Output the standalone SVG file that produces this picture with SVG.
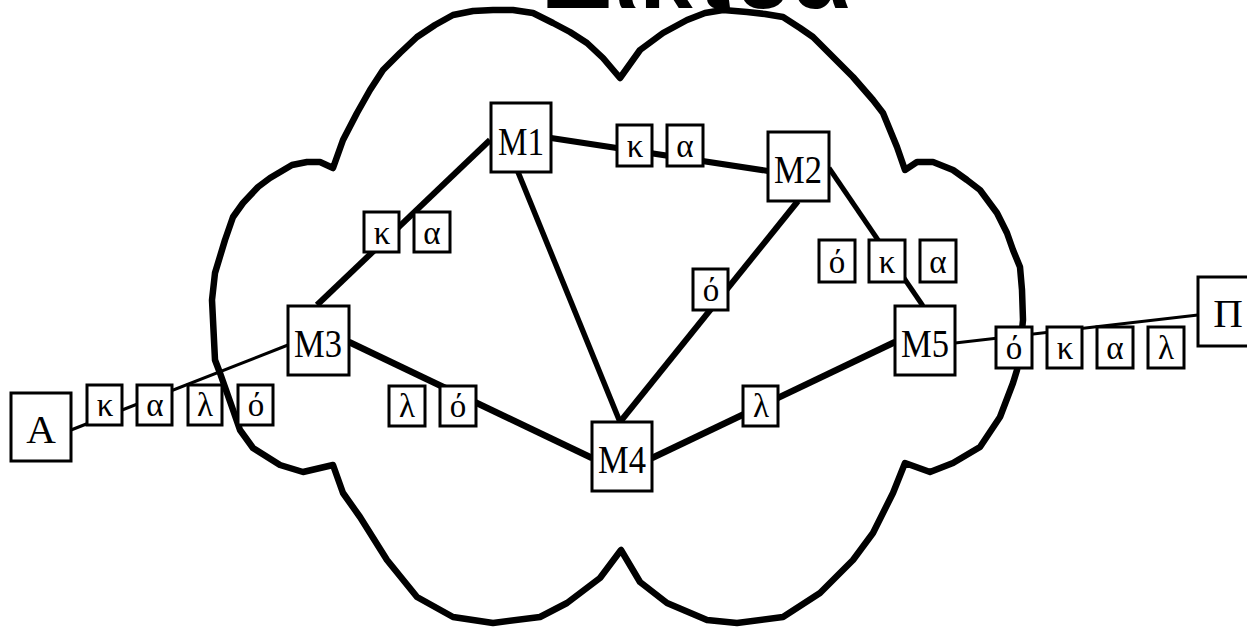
<svg xmlns="http://www.w3.org/2000/svg" width="1247" height="630" viewBox="0 0 1247 630">
<style>
.cloud{fill:none;stroke:#000;stroke-width:6.5;stroke-linejoin:round}
.box{fill:#fff;stroke:#000;stroke-width:3}
.lk{stroke:#000;fill:none;stroke-linecap:butt}
.nt{font-family:"Liberation Serif","Times New Roman",serif;font-size:41px;text-anchor:middle;fill:#000}
.pt{font-family:"Liberation Serif","Times New Roman",serif;font-size:33px;text-anchor:middle;fill:#000}
.title{font-family:"Liberation Sans",Arial,sans-serif;font-weight:bold;font-size:96px;text-anchor:middle;fill:#000}
</style>
<rect width="1247" height="630" fill="#fff"/>
<text class="title" x="697" y="8">Δίκτυα</text>
<path id="cloud" class="cloud" d="M333,168 L343,140 L357,113 L370,90 L383,70 L400,53 L417,37 L435,25 L453,15 L473,11 L493,10 L513,10 L533,13 L553,23 L570,32 L587,43 L603,58 L620,78 L640,50 L663,33 L687,20 L705,13 L723,10 L747,12 L765,14 L783,17 L800,28 L813,37 L833,57 L853,77 L873,100 L883,113 L897,147 L905,170 L917,162 L933,162 L953,170 L967,180 L980,190 L997,213 L1007,233 L1013,250 L1020,267 L1022,290 L1023,320 L1020,350 L1017,370 L1013,383 L1000,417 L980,447 L953,463 L930,472 L905,463 L893,493 L873,533 L853,560 L820,593 L783,617 L737,623 L707,620 L667,603 L640,582 L621,550 L600,578 L567,603 L540,617 L493,623 L453,617 L417,597 L387,560 L360,517 L343,493 L333,465 L303,472 L280,465 L253,448 L240,430 L232,407 L220,373 L215,360 L213,320 L212,300 L215,273 L225,240 L233,217 L243,203 L258,187 L270,178 L292,165 L307,162 L320,162 Z"/>
<g id="connectors">
<line class="lk" stroke-width="6" x1="490" y1="140" x2="317" y2="305"/>
<line class="lk" stroke-width="6" x1="551" y1="138" x2="768" y2="171"/>
<line class="lk" stroke-width="5.5" x1="518" y1="172" x2="620" y2="422"/>
<line class="lk" stroke-width="6" x1="798" y1="201" x2="620" y2="422"/>
<line class="lk" stroke-width="5" x1="829" y1="168" x2="923" y2="306"/>
<line class="lk" stroke-width="6.5" x1="349" y1="342" x2="592" y2="458"/>
<line class="lk" stroke-width="6.5" x1="652" y1="458" x2="895" y2="342"/>
<line class="lk" stroke-width="3" x1="71" y1="430" x2="288" y2="345"/>
<line class="lk" stroke-width="3" x1="955" y1="343" x2="1198" y2="315"/>
</g>
<g id="node-M1"><rect class="box" x="491" y="103" width="60" height="69"/><text class="nt" x="521" y="155" textLength="46" lengthAdjust="spacingAndGlyphs">M1</text></g>
<g id="node-M2"><rect class="box" x="768" y="132" width="61" height="69"/><text class="nt" x="798" y="183" textLength="48" lengthAdjust="spacingAndGlyphs">M2</text></g>
<g id="node-M3"><rect class="box" x="288" y="306" width="61" height="69"/><text class="nt" x="318" y="357" textLength="48" lengthAdjust="spacingAndGlyphs">M3</text></g>
<g id="node-M4"><rect class="box" x="592" y="422" width="60" height="69"/><text class="nt" x="622" y="473" textLength="48" lengthAdjust="spacingAndGlyphs">M4</text></g>
<g id="node-M5"><rect class="box" x="895" y="306" width="60" height="69"/><text class="nt" x="925" y="357" textLength="48" lengthAdjust="spacingAndGlyphs">M5</text></g>
<g id="node-A"><rect class="box" x="11" y="393" width="60" height="68"/><text class="nt" x="41" y="443">A</text></g>
<g id="node-P"><rect class="box" x="1198" y="277" width="60" height="69"/><text class="nt" x="1228" y="327">Π</text></g>
<g id="packets">
<rect class="box" x="87" y="385" width="35" height="40"/><text class="pt" x="105" y="416">κ</text>
<rect class="box" x="137" y="385" width="35" height="40"/><text class="pt" x="155" y="416">α</text>
<rect class="box" x="188" y="385" width="34" height="40"/><text class="pt" x="205" y="416">λ</text>
<rect class="box" x="238" y="385" width="35" height="40"/><text class="pt" x="256" y="416">ό</text>
<rect class="box" x="364" y="212" width="35" height="40"/><text class="pt" x="382" y="244">κ</text>
<rect class="box" x="414" y="212" width="36" height="40"/><text class="pt" x="432" y="244">α</text>
<rect class="box" x="617" y="125" width="35" height="41"/><text class="pt" x="635" y="157">κ</text>
<rect class="box" x="667" y="125" width="36" height="41"/><text class="pt" x="685" y="157">α</text>
<rect class="box" x="693" y="269" width="35" height="41"/><text class="pt" x="711" y="301">ό</text>
<rect class="box" x="819" y="240" width="36" height="42"/><text class="pt" x="837" y="273">ό</text>
<rect class="box" x="869" y="240" width="36" height="42"/><text class="pt" x="887" y="273">κ</text>
<rect class="box" x="920" y="240" width="36" height="42"/><text class="pt" x="938" y="273">α</text>
<rect class="box" x="389" y="386" width="36" height="40"/><text class="pt" x="407" y="417">λ</text>
<rect class="box" x="440" y="386" width="36" height="40"/><text class="pt" x="458" y="417">ό</text>
<rect class="box" x="743" y="386" width="35" height="40"/><text class="pt" x="761" y="417">λ</text>
<rect class="box" x="996" y="327" width="36" height="41"/><text class="pt" x="1014" y="359">ό</text>
<rect class="box" x="1047" y="327" width="35" height="41"/><text class="pt" x="1065" y="359">κ</text>
<rect class="box" x="1097" y="327" width="36" height="41"/><text class="pt" x="1115" y="359">α</text>
<rect class="box" x="1148" y="327" width="36" height="41"/><text class="pt" x="1166" y="359">λ</text>
</g>
</svg>
